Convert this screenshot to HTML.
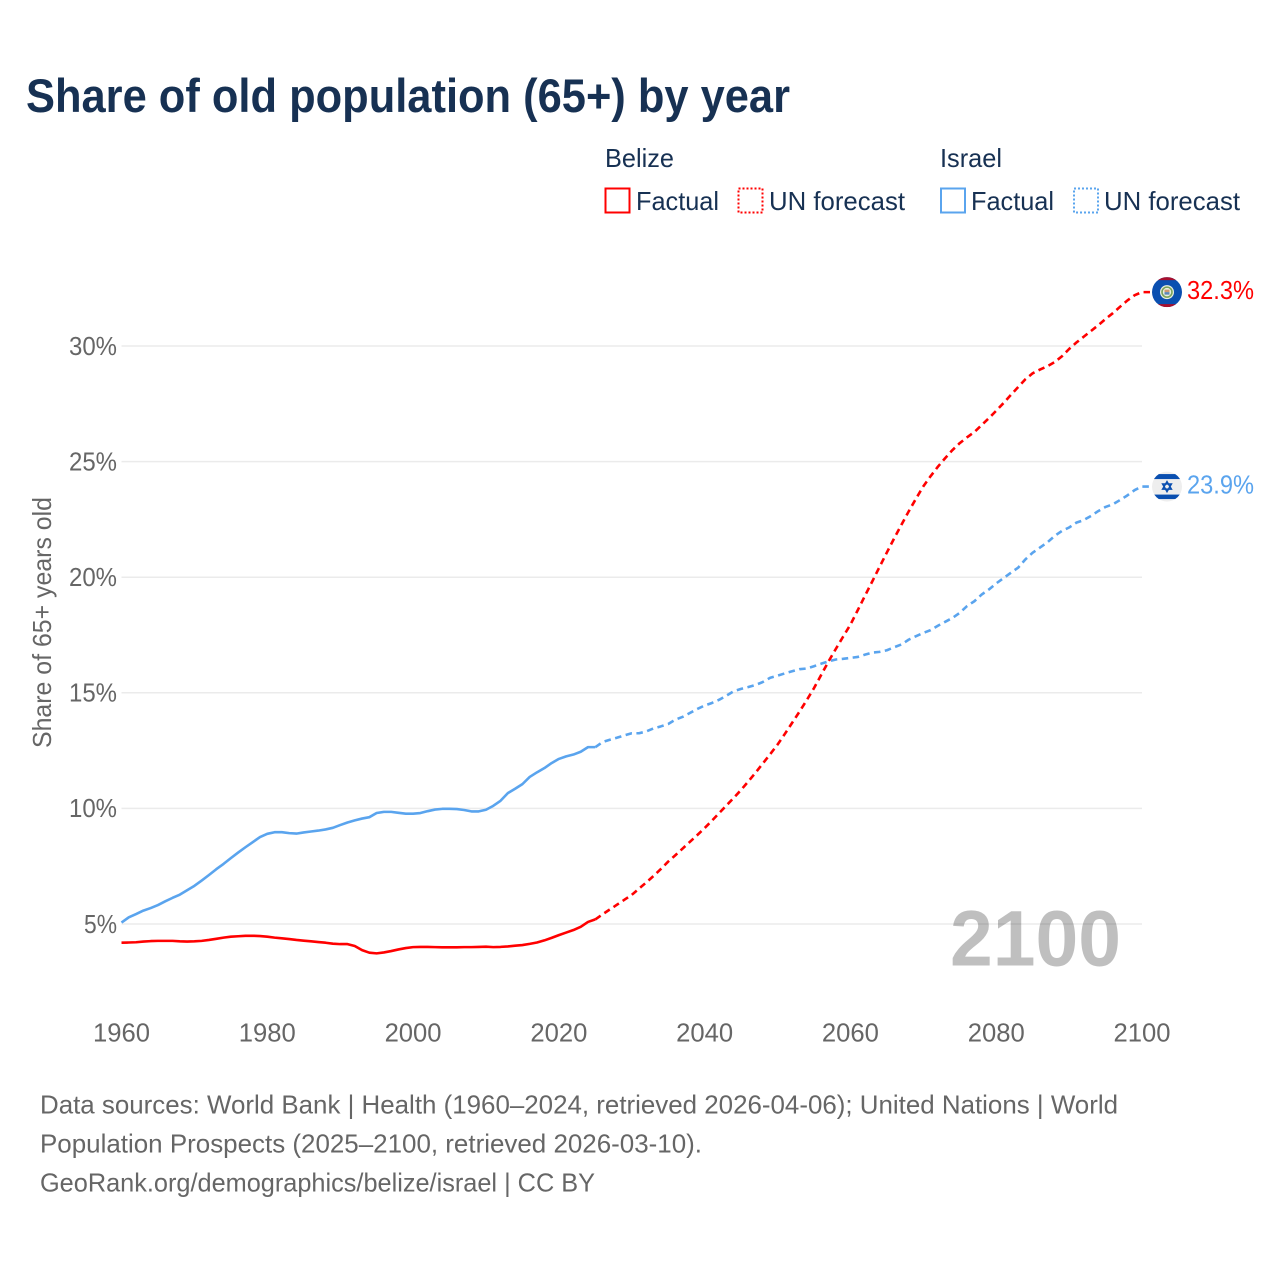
<!DOCTYPE html>
<html lang="en">
<head>
<meta charset="utf-8">
<title>Share of old population (65+) by year</title>
<style>
  html, body { margin: 0; padding: 0; background: #ffffff; }
  svg { display: block; }
  text { font-family: "Liberation Sans", sans-serif; }
  .legend-text { font-size: 26px; fill: #173153; }
  .tick-text { font-size: 26px; fill: #666666; }
  .foot-text { font-size: 26px; fill: #666666; }
</style>
</head>
<body>
<svg id="chart" xmlns="http://www.w3.org/2000/svg" width="1280" height="1280" viewBox="0 0 1280 1280">
  <rect x="0" y="0" width="1280" height="1280" fill="#ffffff"/>
  <text x="26" y="112" font-size="47" font-weight="700" fill="#173153" textLength="764" lengthAdjust="spacingAndGlyphs">Share of old population (65+) by year</text>

  <g>
    <text class="legend-text" x="605" y="167" textLength="69" lengthAdjust="spacingAndGlyphs">Belize</text>
    <rect x="605.5" y="188.5" width="24" height="24" fill="none" stroke="#ff0000" stroke-width="2"/>
    <text class="legend-text" x="636" y="210" textLength="83" lengthAdjust="spacingAndGlyphs">Factual</text>
    <rect x="738.5" y="188.5" width="24" height="24" fill="none" stroke="#ff0000" stroke-width="2" stroke-dasharray="2 2"/>
    <text class="legend-text" x="769" y="210" textLength="136" lengthAdjust="spacingAndGlyphs">UN forecast</text>
    <text class="legend-text" x="940" y="167" textLength="62" lengthAdjust="spacingAndGlyphs">Israel</text>
    <rect x="941" y="188.5" width="24" height="24" fill="none" stroke="#5aa4ee" stroke-width="2"/>
    <text class="legend-text" x="971" y="210" textLength="83" lengthAdjust="spacingAndGlyphs">Factual</text>
    <rect x="1074" y="188.5" width="24" height="24" fill="none" stroke="#5aa4ee" stroke-width="2" stroke-dasharray="2 2"/>
    <text class="legend-text" x="1104" y="210" textLength="136" lengthAdjust="spacingAndGlyphs">UN forecast</text>
  </g>

  <g id="grid"></g>
  <g id="y-ticks"></g>
  <g id="x-ticks"></g>
  <text class="tick-text" transform="translate(51 748) rotate(-90)" x="0" y="0" textLength="251" lengthAdjust="spacingAndGlyphs">Share of 65+ years old</text>
  <text x="950" y="965.5" font-size="79" font-weight="700" fill="#000000" fill-opacity="0.25" textLength="171" lengthAdjust="spacingAndGlyphs">2100</text>

  <g id="series"></g>

  <defs>
    <clipPath id="flag-clip"><circle cx="0" cy="0" r="15"/></clipPath>
  </defs>
  <g id="flag-belize" clip-path="url(#flag-clip)">
    <rect x="-15" y="-15" width="30" height="30" fill="#0a4fb0"/>
    <rect x="-15" y="-15" width="30" height="3" fill="#a80f2d"/>
    <rect x="-15" y="12" width="30" height="3" fill="#a80f2d"/>
    <circle cx="0" cy="0" r="7" fill="#e8efe0"/>
    <circle cx="0" cy="0" r="5" fill="none" stroke="#7aa25a" stroke-width="1.6"/>
    <rect x="-2.5" y="-2.5" width="5" height="2.5" fill="#d09a70"/>
    <rect x="-2.5" y="0" width="5" height="2.5" fill="#5a86b8"/>
  </g>
  <g id="flag-israel" clip-path="url(#flag-clip)">
    <rect x="-15" y="-15" width="30" height="30" fill="#eeeeee"/>
    <rect x="-15" y="-12.5" width="30" height="5" fill="#0a4fb0"/>
    <rect x="-15" y="8" width="30" height="4.5" fill="#0a4fb0"/>
    <path d="M0 -5 L4.4 2.6 L-4.4 2.6 Z M0 5 L4.4 -2.6 L-4.4 -2.6 Z" fill="none" stroke="#0a4fb0" stroke-width="1.5"/>
  </g>
  <g id="end-labels"></g>

  <g>
    <text class="foot-text" x="40" y="1113.5" textLength="1078" lengthAdjust="spacingAndGlyphs">Data sources: World Bank | Health (1960–2024, retrieved 2026-04-06); United Nations | World</text>
    <text class="foot-text" x="40" y="1152.5" textLength="662" lengthAdjust="spacingAndGlyphs">Population Prospects (2025–2100, retrieved 2026-03-10).</text>
    <text class="foot-text" x="40" y="1191.5" textLength="555" lengthAdjust="spacingAndGlyphs">GeoRank.org/demographics/belize/israel | CC BY</text>
  </g>
</svg>

<script>
var xTickValues = [1960, 1980, 2000, 2020, 2040, 2060, 2080, 2100];
var yTickValues = [5, 10, 15, 20, 25, 30];
var yTickLabels = ['5%', '10%', '15%', '20%', '25%', '30%'];

var factualStartYear = 1960;
var forecastStartYear = 2025;

var belizeFactual = [
  4.19, 4.20, 4.21, 4.24, 4.26, 4.27, 4.27, 4.27, 4.25, 4.24,
  4.25, 4.27, 4.31, 4.36, 4.41, 4.45, 4.47, 4.49, 4.49, 4.48,
  4.45, 4.41, 4.38, 4.35, 4.31, 4.28, 4.25, 4.22, 4.19, 4.15,
  4.13, 4.13, 4.05, 3.87, 3.76, 3.73, 3.77, 3.83, 3.90, 3.96,
  4.00, 4.01, 4.01, 4.00, 3.99, 3.99, 3.99, 4.00, 4.00, 4.01,
  4.02, 4.00, 4.01, 4.03, 4.06, 4.09, 4.14, 4.20, 4.29, 4.40,
  4.52, 4.63, 4.74, 4.88, 5.09, 5.20
];
var belizeForecast = [
  5.20, 5.42, 5.63, 5.84, 6.05, 6.26, 6.53, 6.80, 7.08, 7.38,
  7.70, 7.98, 8.27, 8.56, 8.85, 9.15, 9.47, 9.80, 10.13, 10.46,
  10.80, 11.17, 11.55, 11.95, 12.35, 12.76, 13.22, 13.70, 14.18, 14.68,
  15.20, 15.78, 16.36, 16.90, 17.43, 17.95, 18.57, 19.20, 19.82, 20.45,
  21.07, 21.68, 22.27, 22.85, 23.40, 23.93, 24.37, 24.78, 25.15, 25.50,
  25.80, 26.05, 26.28, 26.58, 26.88, 27.20, 27.53, 27.88, 28.22, 28.56,
  28.82, 28.98, 29.12, 29.30, 29.55, 29.87, 30.15, 30.40, 30.65, 30.90,
  31.17, 31.42, 31.70, 31.97, 32.20, 32.33
];
var israelFactual = [
  5.06, 5.29, 5.43, 5.58, 5.69, 5.82, 5.98, 6.13, 6.27, 6.46,
  6.65, 6.88, 7.12, 7.37, 7.60, 7.85, 8.09, 8.32, 8.54, 8.76,
  8.90, 8.97, 8.97, 8.93, 8.91, 8.96, 9.00, 9.04, 9.09, 9.16,
  9.28, 9.39, 9.48, 9.56, 9.62, 9.80, 9.85, 9.85, 9.81, 9.77,
  9.77, 9.80, 9.88, 9.95, 9.98, 9.98, 9.97, 9.93, 9.87, 9.87,
  9.94, 10.11, 10.33, 10.66, 10.85, 11.05, 11.36, 11.56, 11.74, 11.96,
  12.14, 12.25, 12.33, 12.45, 12.65, 12.65
];
var israelForecast = [
  12.65, 12.87, 12.97, 13.06, 13.16, 13.25, 13.25, 13.33, 13.46, 13.55,
  13.65, 13.84, 13.96, 14.13, 14.30, 14.45, 14.56, 14.70, 14.88, 15.07,
  15.17, 15.25, 15.34, 15.47, 15.65, 15.74, 15.84, 15.93, 16.02, 16.05,
  16.15, 16.26, 16.36, 16.44, 16.47, 16.51, 16.55, 16.65, 16.74, 16.77,
  16.84, 16.97, 17.09, 17.30, 17.45, 17.59, 17.71, 17.90, 18.07, 18.24,
  18.46, 18.75, 18.96, 19.25, 19.47, 19.73, 19.96, 20.19, 20.41, 20.77,
  21.06, 21.28, 21.50, 21.78, 22.00, 22.15, 22.36, 22.47, 22.65, 22.86,
  23.04, 23.15, 23.34, 23.54, 23.77, 23.92
];
var endLabels = ['32.3%', '23.9%'];

var SVG_NS = 'http://www.w3.org/2000/svg';
var RED = '#ff0000';
var BLUE = '#5aa4ee';

function xScale(year) {
  return 121.5 + (year - 1960) * (1142 - 121.5) / 140;
}
function yScale(value) {
  return 924 - (value - 5) * 23.12;
}
function linePath(values, startYear, extend) {
  var d = '';
  for (var i = 0; i < values.length; i++) {
    d += (i === 0 ? 'M' : 'L') + xScale(startYear + i).toFixed(2) + ' ' + yScale(values[i]).toFixed(2);
  }
  if (extend) {
    d += 'L' + (xScale(startYear + values.length - 1) + extend).toFixed(2) + ' ' + yScale(values[values.length - 1]).toFixed(2);
  }
  return d;
}

var gridGroup = document.getElementById('grid');
var yTickGroup = document.getElementById('y-ticks');
yTickValues.forEach(function (v, i) {
  var line = document.createElementNS(SVG_NS, 'line');
  
  
  line.setAttribute('x1', xScale(1960));
  line.setAttribute('x2', xScale(2100));
  line.setAttribute('y1', yScale(v));
  line.setAttribute('y2', yScale(v));
  line.setAttribute('stroke', '#ebebeb');
  line.setAttribute('stroke-width', '1.5');
  gridGroup.appendChild(line);

  var t = document.createElementNS(SVG_NS, 'text');
  
  
  t.setAttribute('class', 'tick-text');
  t.setAttribute('x', 69 + (3 - yTickLabels[i].length) * 15);
  t.setAttribute('y', yScale(v) + 8.8);
  t.setAttribute('textLength', 48 - (3 - yTickLabels[i].length) * 15);
  t.setAttribute('lengthAdjust', 'spacingAndGlyphs');
  t.textContent = yTickLabels[i];
  yTickGroup.appendChild(t);
});

var xTickGroup = document.getElementById('x-ticks');
xTickValues.forEach(function (year) {
  var t = document.createElementNS(SVG_NS, 'text');
  
  
  t.setAttribute('class', 'tick-text');
  t.setAttribute('x', xScale(year) - 28.5);
  t.setAttribute('y', 1041.7);
  t.setAttribute('textLength', '57');
  t.setAttribute('lengthAdjust', 'spacingAndGlyphs');
  t.textContent = String(year);
  xTickGroup.appendChild(t);
});

var seriesGroup = document.getElementById('series');
function addLine(name, values, startYear, color, dash, extend) {
  var p = document.createElementNS(SVG_NS, 'path');
  
  
  p.setAttribute('d', linePath(values, startYear, extend));
  p.setAttribute('fill', 'none');
  p.setAttribute('stroke', color);
  p.setAttribute('stroke-width', '2.6');
  p.setAttribute('stroke-linejoin', 'round');
  if (dash) {
    p.setAttribute('stroke-dasharray', dash);
  }
  seriesGroup.appendChild(p);
}
addLine('israel-factual-line', israelFactual, factualStartYear, BLUE, null, 0);
addLine('israel-forecast-line', israelForecast, forecastStartYear, BLUE, '6.5 4.5', 8);
addLine('belize-factual-line', belizeFactual, factualStartYear, RED, null, 0);
addLine('belize-forecast-line', belizeForecast, forecastStartYear, RED, '6.5 4.5', 8);

var belizeEndY = yScale(belizeForecast[belizeForecast.length - 1]);
var israelEndY = yScale(israelForecast[israelForecast.length - 1]);
document.getElementById('flag-belize').setAttribute('transform', 'translate(1167 ' + belizeEndY.toFixed(2) + ')');
document.getElementById('flag-israel').setAttribute('transform', 'translate(1167 ' + israelEndY.toFixed(2) + ')');

var endGroup = document.getElementById('end-labels');
var belizeLabel = document.createElementNS(SVG_NS, 'text');


belizeLabel.setAttribute('x', 1187);
belizeLabel.setAttribute('y', belizeEndY + 7);
belizeLabel.setAttribute('font-size', '26');
belizeLabel.setAttribute('fill', RED);
belizeLabel.setAttribute('textLength', '67');
belizeLabel.setAttribute('lengthAdjust', 'spacingAndGlyphs');
belizeLabel.textContent = endLabels[0];
endGroup.appendChild(belizeLabel);

var israelLabel = document.createElementNS(SVG_NS, 'text');


israelLabel.setAttribute('x', 1187);
israelLabel.setAttribute('y', israelEndY + 7);
israelLabel.setAttribute('font-size', '26');
israelLabel.setAttribute('fill', BLUE);
israelLabel.setAttribute('textLength', '67');
israelLabel.setAttribute('lengthAdjust', 'spacingAndGlyphs');
israelLabel.textContent = endLabels[1];
endGroup.appendChild(israelLabel);
</script>
</body>
</html>
